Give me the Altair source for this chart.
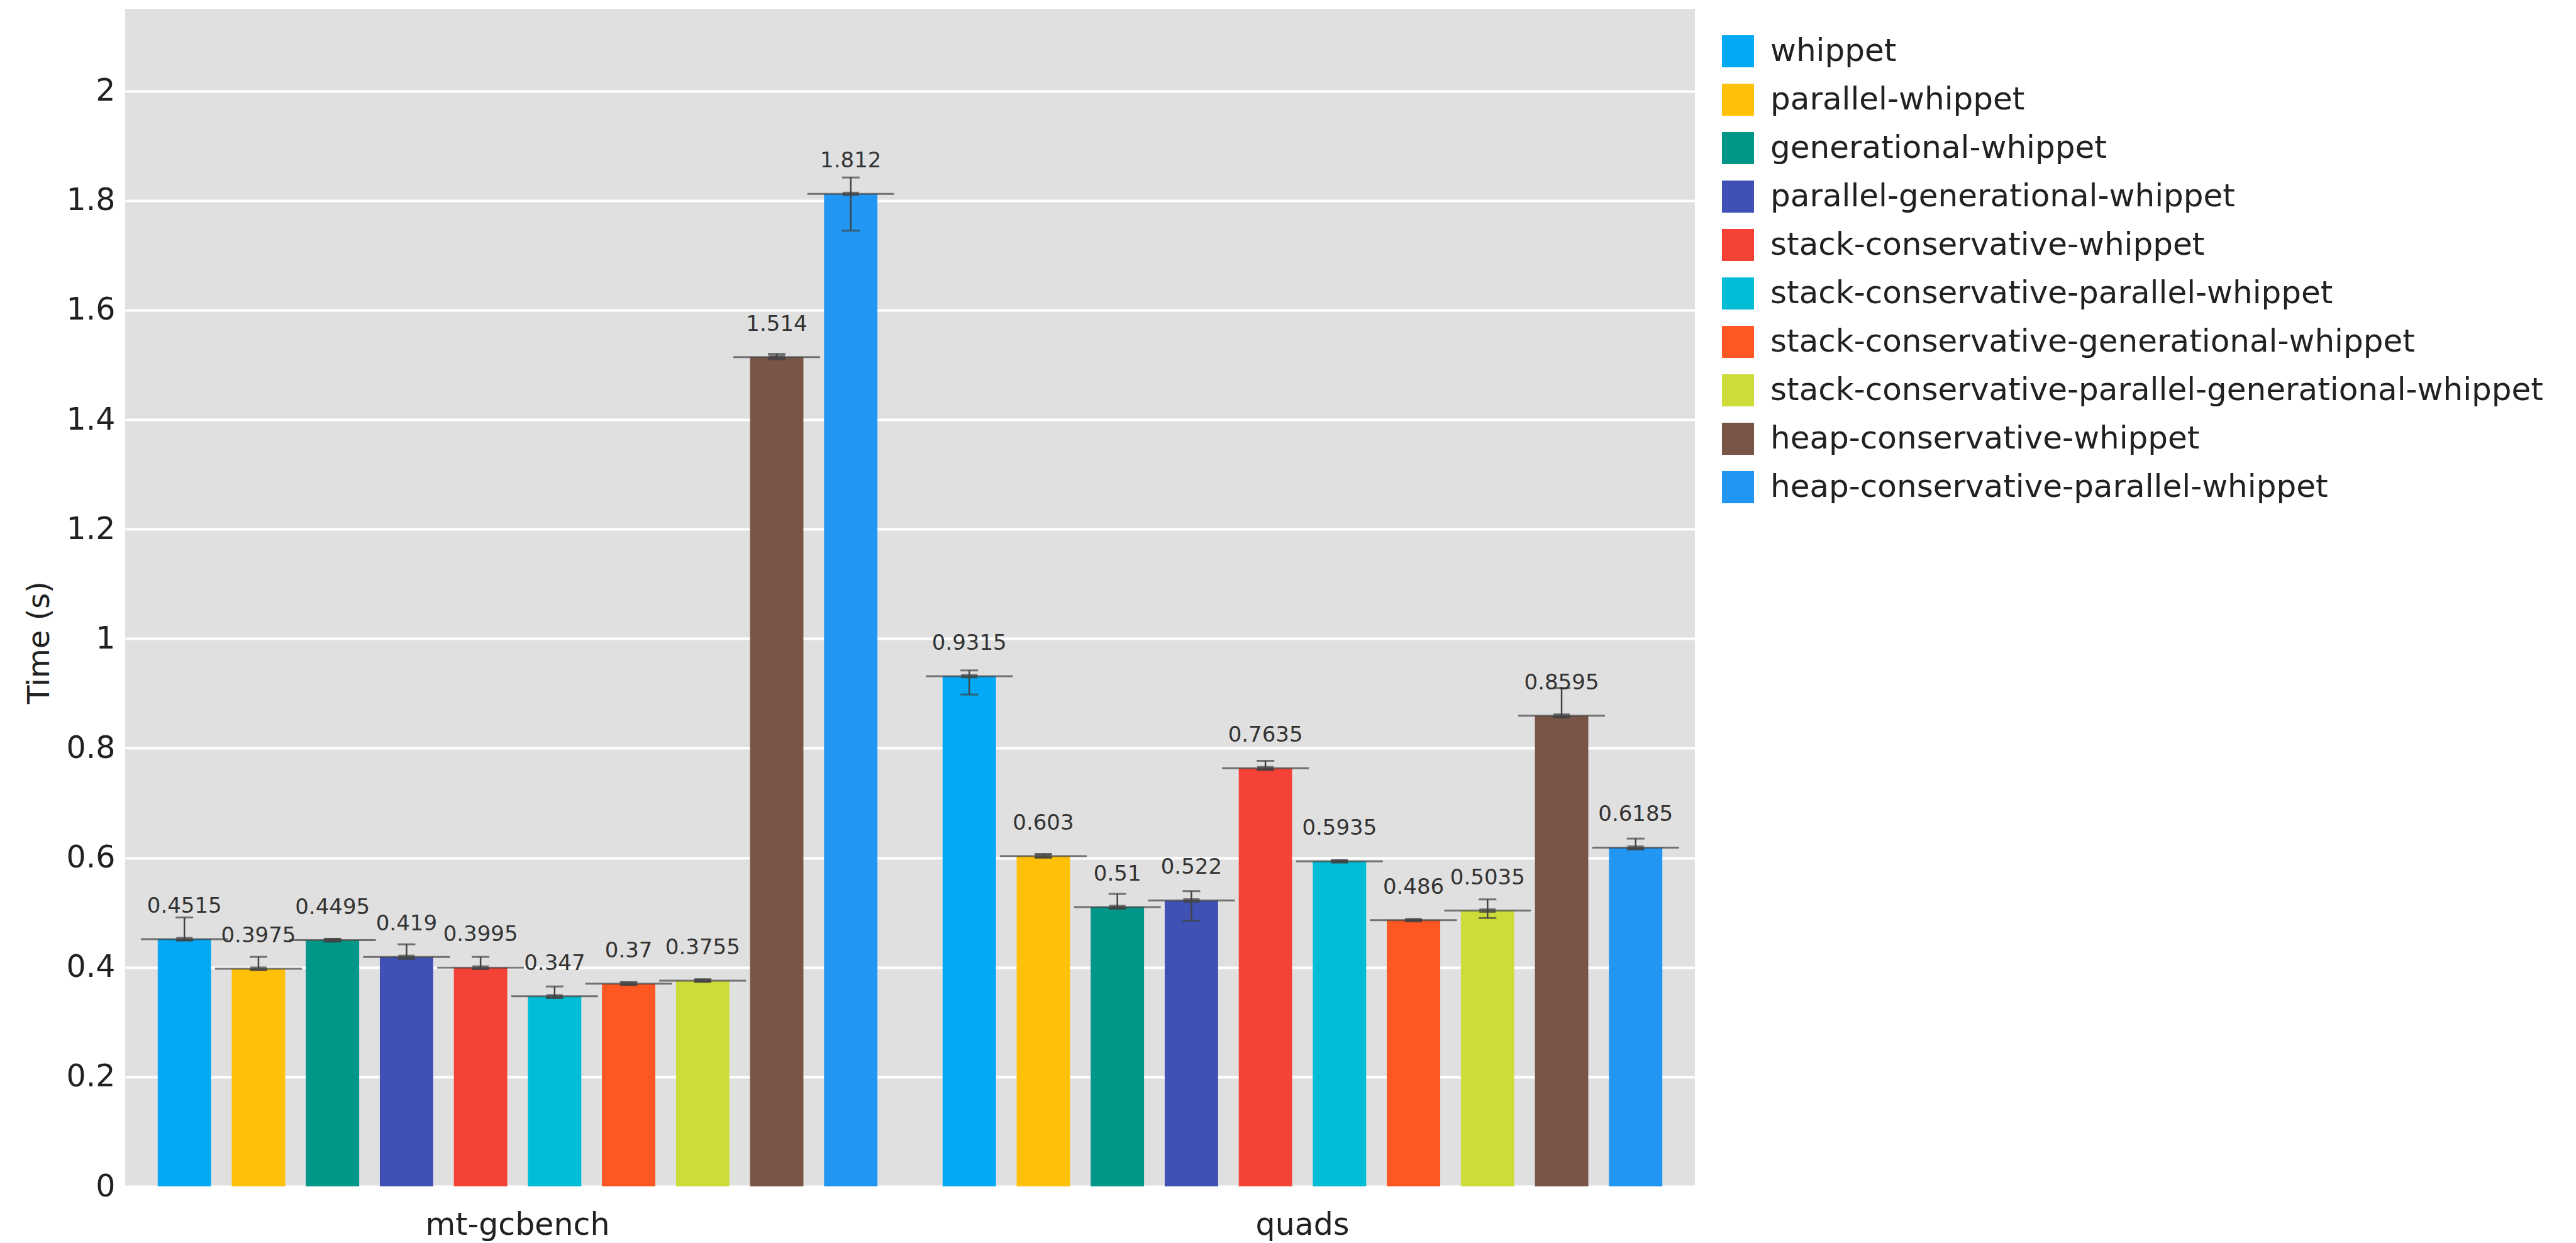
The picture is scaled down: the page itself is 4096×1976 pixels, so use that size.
import altair as alt
import pandas as pd

benchmarks = ["mt-gcbench", "quads"]
variants = [
    "whippet",
    "parallel-whippet",
    "generational-whippet",
    "parallel-generational-whippet",
    "stack-conservative-whippet",
    "stack-conservative-parallel-whippet",
    "stack-conservative-generational-whippet",
    "stack-conservative-parallel-generational-whippet",
    "heap-conservative-whippet",
    "heap-conservative-parallel-whippet",
]
colors = ["#03A9F4", "#FFC107", "#009688", "#3F51B5", "#F44336",
          "#00BCD4", "#FF5722", "#CDDC39", "#795548", "#2196F3"]

mt_values = [0.4515, 0.3975, 0.4495, 0.419, 0.3995, 0.347, 0.37, 0.3755, 1.514, 1.812]
mt_err_lo = [0.449, 0.395, 0.447, 0.415, 0.397, 0.344, 0.368, 0.374, 1.510, 1.745]
mt_err_hi = [0.491, 0.419, 0.452, 0.442, 0.419, 0.365, 0.373, 0.378, 1.520, 1.842]

quads_values = [0.9315, 0.603, 0.51, 0.522, 0.7635, 0.5935, 0.486, 0.5035, 0.8595, 0.6185]
quads_err_lo = [0.898, 0.600, 0.507, 0.485, 0.760, 0.592, 0.485, 0.490, 0.856, 0.615]
quads_err_hi = [0.942, 0.607, 0.534, 0.539, 0.777, 0.595, 0.487, 0.524, 0.910, 0.635]

y_ticks = [0, 0.2, 0.4, 0.6, 0.8, 1, 1.2, 1.4, 1.6, 1.8, 2]

rows = []
for bench, vals, lo, hi in [("mt-gcbench", mt_values, mt_err_lo, mt_err_hi),
                            ("quads", quads_values, quads_err_lo, quads_err_hi)]:
    for i, v in enumerate(variants):
        rows.append({"benchmark": bench, "variant": v, "time": vals[i],
                     "lo": lo[i], "hi": hi[i], "label": f"{vals[i]:g}"})
df = pd.DataFrame(rows)

FONT = "DejaVu Sans"
TXT = "#212121"
ERR = "#424242"

yscale = alt.Scale(domain=[0, 2.15], nice=False, zero=True)
yaxis = alt.Axis(values=y_ticks, format="~g", domain=False, ticks=False,
                 grid=True, gridColor="#FFFFFF", gridWidth=4,
                 labelFontSize=49, labelFont=FONT, labelColor=TXT, labelPadding=16,
                 titleFontSize=48, titleFont=FONT, titleColor=TXT, titleFontWeight="normal",
                 titleAngle=270, titleX=-122, titleY=1007, titleBaseline="alphabetic",
                 titleAlign="center")
xaxis = alt.Axis(title=None, labelAngle=0, domain=False, ticks=False, grid=False,
                 labelFontSize=49, labelFont=FONT, labelColor=TXT, labelPadding=37,
                 labelLimit=2000)

def Y(field):
    return alt.Y(f"{field}:Q", scale=yscale, axis=yaxis, title="Time (s)")

base = alt.Chart(df).encode(
    x=alt.X("benchmark:N", sort=benchmarks, axis=xaxis,
            scale=alt.Scale(paddingInner=0, paddingOuter=0)),
    xOffset=alt.XOffset("variant:N", sort=variants,
                        scale=alt.Scale(paddingInner=0.279, paddingOuter=0.44)),
)

bars = base.mark_bar().encode(
    y=Y("time"),
    color=alt.Color("variant:N", sort=variants,
                    scale=alt.Scale(domain=variants, range=colors),
                    legend=alt.Legend(title=None, orient="none", legendX=2539, legendY=42,
                                      symbolType="square", symbolSize=2601,
                                      symbolStrokeWidth=0, labelFontSize=50,
                                      labelFont=FONT, labelColor=TXT, labelOffset=26,
                                      rowPadding=26, labelLimit=2000, padding=0)),
)

mean_line = base.mark_tick(orient="horizontal", size=138, thickness=3, color=ERR).encode(
    y=Y("time"))
whisker = base.mark_rule(color=ERR, strokeWidth=2.5).encode(y=Y("lo"), y2="hi:Q")
cap_lo = base.mark_tick(orient="horizontal", size=28, thickness=3, color=ERR).encode(y=Y("lo"))
cap_hi = base.mark_tick(orient="horizontal", size=28, thickness=3, color=ERR).encode(y=Y("hi"))
blob = base.mark_tick(orient="horizontal", size=26, thickness=7, color=ERR).encode(y=Y("time"))

labels = base.mark_text(dy=-42, baseline="alphabetic", align="center", fontSize=34,
                        font=FONT, color="#333333").encode(
    y=Y("time"), text="label:N")

chart = alt.layer(bars, mean_line, whisker, cap_lo, cap_hi, blob, labels).properties(
    width=2496, height=1872,
    autosize=alt.AutoSizeParams(type="none"),
    padding={"left": 199, "top": 14, "right": 1401, "bottom": 90},
    background="#FFFFFF",
).configure_view(fill="#E0E0E0", stroke=None)

chart.save("out.html", embed_options={"renderer": "svg", "actions": False})
